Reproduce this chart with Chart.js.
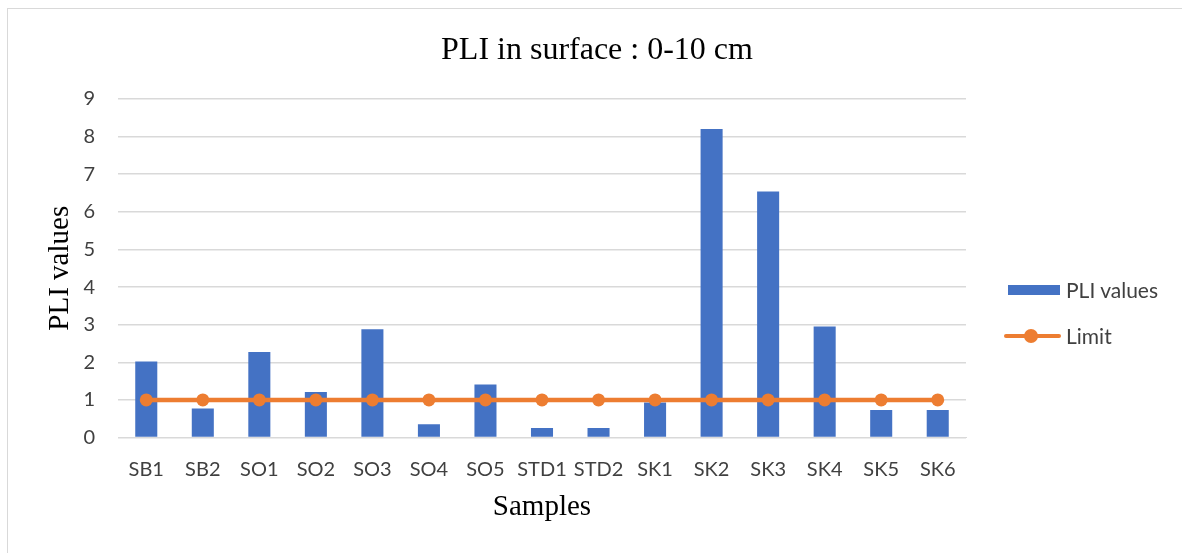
<!DOCTYPE html>
<html>
<head>
<meta charset="utf-8">
<script src="https://cdn.jsdelivr.net/npm/chart.js@4"></script>
<style>
  html, body { margin: 0; padding: 0; background: #fff; }
  body { width: 1182px; height: 553px; position: relative; overflow: hidden; }
  #frame {
    position: absolute; left: 7px; top: 8px; width: 1300px; height: 700px;
    border-left: 1px solid #d9d9d9; border-top: 1px solid #d9d9d9;
  }
  #wrap { position: absolute; left: 0; top: 0; width: 1182px; height: 553px; }
  #title {
    position: absolute; left: 6px; top: 32px; width: 1182px; text-align: center;
    font-family: 'Liberation Serif', 'Times New Roman', serif; font-size: 32px; line-height: 32px; color: #000;
  }
  .legend { position: absolute; left: 1004px; font-family: Lato, sans-serif; font-size: 21px; color: #404040; }
  .legend .item { position: absolute; left: 0; white-space: nowrap; height: 24px; line-height: 24px; }
  .legend .bar { position: absolute; left: 4px; top: 7px; width: 52px; height: 10px; background: #4472c4; }
  .legend .line { position: absolute; left: 0; top: 10px; width: 57px; height: 4px; background: #ed7d31; border-radius: 2px; }
  .legend .dot { position: absolute; left: 20px; top: 5px; width: 14px; height: 14px; border-radius: 50%; background: #ed7d31; }
  .legend .label { position: absolute; left: 62px; top: 0; }
</style>
</head>
<body>
<div id="frame"></div>
<div id="wrap"><canvas id="chart"></canvas></div>
<div id="title">PLI in surface : 0-10 cm</div>
<div class="legend">
  <div class="item" style="top:278px"><span class="bar"></span><span class="label">PLI values</span></div>
  <div class="item" style="top:324px"><span class="line"></span><span class="dot"></span><span class="label">Limit</span></div>
</div>
<script>
const samples = ["SB1", "SB2", "SO1", "SO2", "SO3", "SO4", "SO5", "STD1", "STD2", "SK1", "SK2", "SK3", "SK4", "SK5", "SK6"];
const pliValues = [2.02, 0.77, 2.27, 1.21, 2.88, 0.35, 1.41, 0.25, 0.25, 0.93, 8.2, 6.54, 2.95, 0.73, 0.73];
const limit = [1, 1, 1, 1, 1, 1, 1, 1, 1, 1, 1, 1, 1, 1, 1];
const yTicks = [0, 1, 2, 3, 4, 5, 6, 7, 8, 9];

const serif = "'Liberation Serif', 'Times New Roman', serif";
const sans = "Lato, sans-serif";
const gridColor = "#d9d9d9";
const textColor = "#404040";

new Chart(document.getElementById("chart"), {
  data: {
    labels: samples,
    datasets: [
      {
        type: "line",
        label: "Limit",
        data: limit,
        borderColor: "#ed7d31",
        backgroundColor: "#ed7d31",
        borderWidth: 4.5,
        pointRadius: 6.5,
        pointBorderWidth: 0,
        pointBackgroundColor: "#ed7d31",
        order: 1
      },
      {
        type: "bar",
        label: "PLI values",
        data: pliValues,
        backgroundColor: "#4472c4",
        barPercentage: 0.39,
        categoryPercentage: 1,
        order: 2
      }
    ]
  },
  options: {
    responsive: true,
    maintainAspectRatio: false,
    animation: false,
    layout: {
      padding: { left: 39, right: 216, top: 99, bottom: 24 }
    },
    plugins: {
      legend: { display: false },
      tooltip: { enabled: false }
    },
    scales: {
      x: {
        grid: { display: false, drawTicks: false },
        border: { color: gridColor, width: 1 },
        ticks: {
          color: textColor,
          font: { family: sans, size: 20 },
          padding: 20,
          maxRotation: 0,
          autoSkip: false
        },
        title: {
          display: true,
          text: "Samples",
          color: "#000",
          font: { family: serif, size: 29 }
        },
        afterFit: scale => { scale.height = 91.5; }
      },
      y: {
        min: 0,
        max: 9,
        afterBuildTicks: scale => { scale.ticks = yTicks.map(v => ({ value: v })); },
        grid: { color: gridColor, lineWidth: 1.5, drawTicks: false },
        border: { display: false },
        ticks: {
          color: textColor,
          font: { family: sans, size: 20 },
          padding: 23
        },
        title: {
          display: true,
          text: "PLI values",
          color: "#000",
          font: { family: serif, size: 29 }
        },
        afterFit: scale => { scale.width = 79; }
      }
    }
  }
});
</script>
</body>
</html>
